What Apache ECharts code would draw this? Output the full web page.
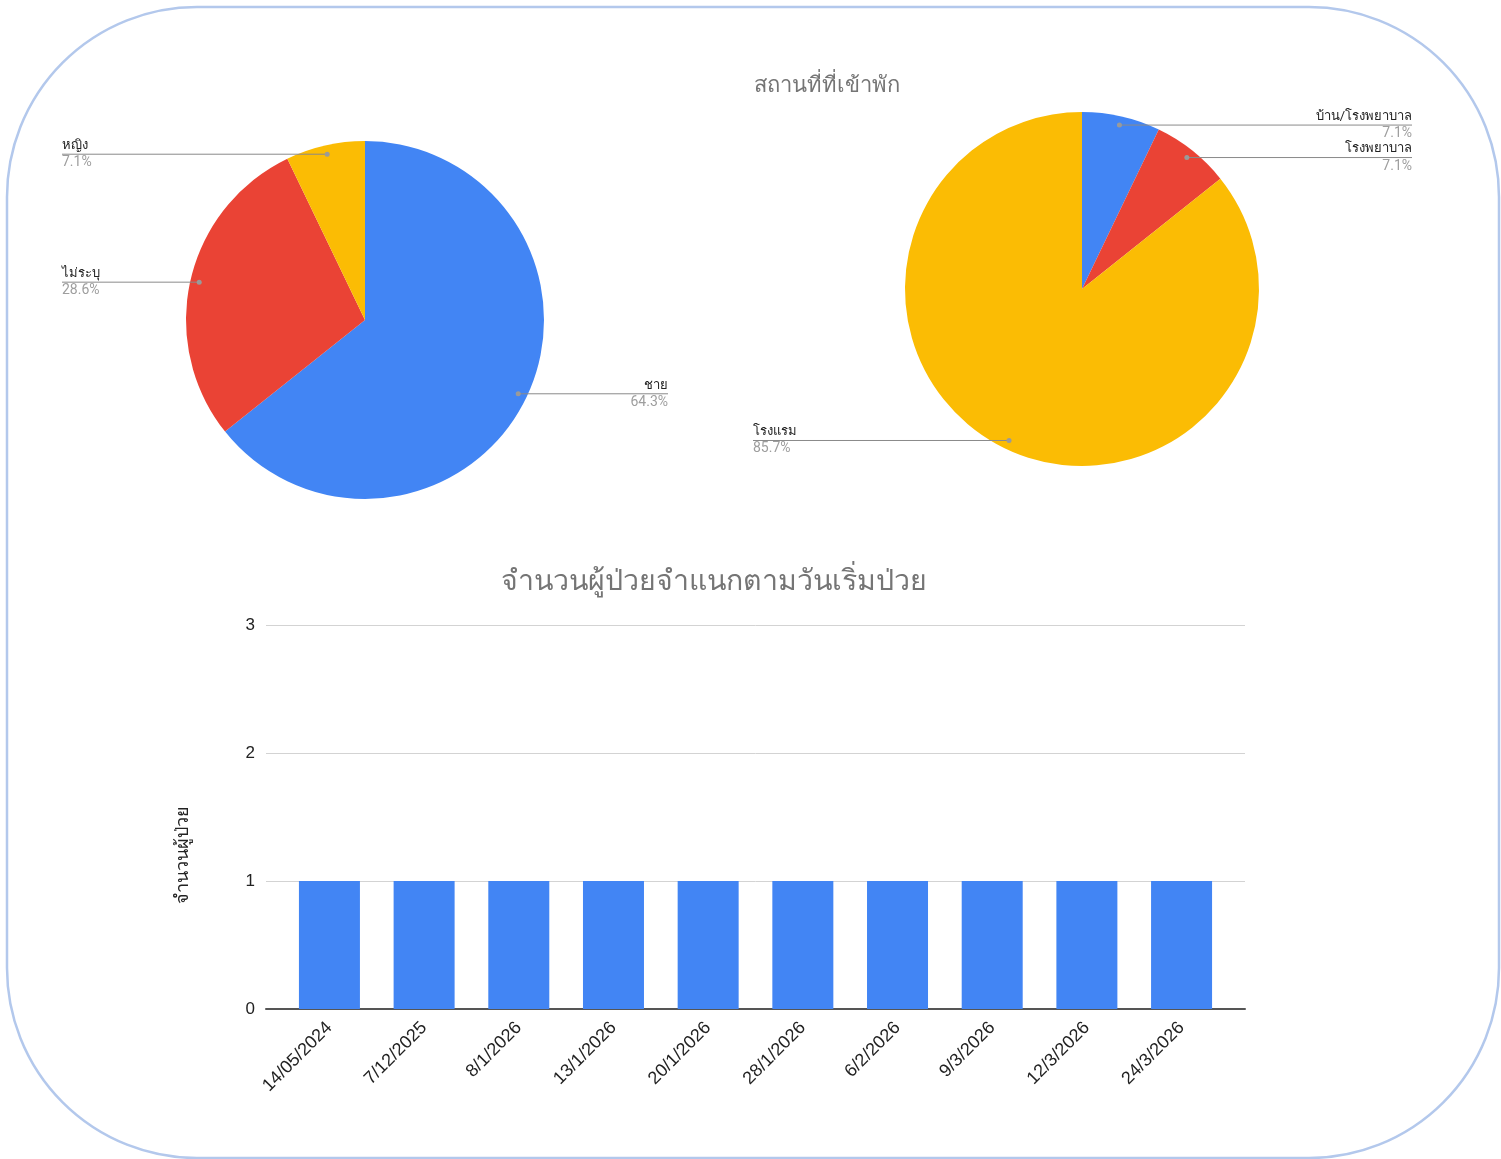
<!DOCTYPE html>
<html>
<head>
<meta charset="utf-8">
<title>chart</title>
<script src="https://cdn.jsdelivr.net/npm/echarts@6/dist/echarts.min.js"></script>
<style>
  html, body { margin: 0; padding: 0; background: #fff; }
  #main { width: 1501px; height: 1159px; }
</style>
</head>
<body>
<div id="main"></div>
<script>
// ข้อมูล
var genderNames = ['ชาย', 'ไม่ระบุ', 'หญิง'];
var genderValues = [9, 4, 1];

var stayNames = ['บ้าน/โรงพยาบาล', 'โรงพยาบาล', 'โรงแรม'];
var stayValues = [1, 1, 12];

var onsetDates = ['14/05/2024', '7/12/2025', '8/1/2026', '13/1/2026', '20/1/2026',
  '28/1/2026', '6/2/2026', '9/3/2026', '12/3/2026', '24/3/2026'];
var onsetCounts = [1, 1, 1, 1, 1, 1, 1, 1, 1, 1];

var colors = ['#4285f4', '#ea4335', '#fbbc04'];
var font = 'Roboto, "Liberation Sans", Arial, sans-serif';
var axisFont = '"Liberation Sans", Arial, sans-serif';

var chart = echarts.init(document.getElementById('main'));

function sum(arr) {
  return arr.reduce(function (a, b) { return a + b; }, 0);
}

// จุดกลางชิ้น (ใช้วางจุดและเส้นนำของป้าย)
function sliceDot(center, r, values, i) {
  var before = 0;
  for (var k = 0; k < i; k++) before += values[k];
  var mid = (before + values[i] / 2) / sum(values) * 2 * Math.PI;
  return {
    x: center[0] + 0.95 * r * Math.sin(mid),
    y: center[1] - 0.95 * r * Math.cos(mid),
    right: Math.sin(mid) > 0
  };
}

// วางป้ายแบบ Google Sheets: เส้นแนวนอนจากจุดไปที่ขอบ
function pieLabels(center, r, values, leftX, rightX) {
  return function (params) {
    var d = sliceDot(center, r, values, params.dataIndex);
    var ex = d.right ? rightX : leftX;
    return {
      x: ex,
      y: d.y,
      align: d.right ? 'right' : 'left',
      verticalAlign: 'middle',
      labelLinePoints: [[d.x, d.y], [d.x, d.y], [ex, d.y]]
    };
  };
}

function pieData(names, values, transparent) {
  return names.map(function (n, i) {
    return { name: n, value: values[i], itemStyle: { color: transparent ? 'rgba(0,0,0,0)' : colors[i] } };
  });
}

function pieSeries(names, values, center, r) {
  return {
    type: 'pie',
    center: center,
    radius: r,
    startAngle: 90,
    animation: false,
    silent: true,
    z: 2,
    itemStyle: { borderWidth: 0 },
    label: { show: false },
    labelLine: { show: false },
    data: pieData(names, values, false)
  };
}

// ชั้นโปร่งใสด้านบน ไว้แสดงป้ายและเส้นให้อยู่เหนือชิ้นพาย
function pieLabelSeries(names, values, center, r, leftX, rightX) {
  var total = sum(values);
  return {
    type: 'pie',
    center: center,
    radius: r,
    startAngle: 90,
    animation: false,
    silent: true,
    z: 3,
    itemStyle: { borderWidth: 0 },
    label: {
      show: true,
      formatter: function (p) {
        return '{n|' + p.name + '}\n{p|' + (p.value / total * 100).toFixed(1) + '%}';
      },
      rich: {
        n: { color: '#222', fontSize: 13, lineHeight: 17, fontFamily: font },
        p: { color: '#9e9e9e', fontSize: 14, lineHeight: 17, fontFamily: font }
      }
    },
    labelLine: { show: true, lineStyle: { color: '#8a8a8a', width: 1 } },
    labelLayout: pieLabels(center, r, values, leftX, rightX),
    data: pieData(names, values, true)
  };
}

function dots(center, r, values) {
  return values.map(function (v, i) {
    var d = sliceDot(center, r, values, i);
    return {
      type: 'circle',
      shape: { cx: d.x, cy: d.y, r: 2.5 },
      style: { fill: '#9a9a9a' },
      z: 100,
      silent: true
    };
  });
}

var leftPie = { center: [365, 320], r: 179 };
var rightPie = { center: [1082, 289], r: 177 };

var option = {
  backgroundColor: '#fff',
  textStyle: { fontFamily: font },
  title: [{
    text: 'สถานที่ที่เข้าพัก',
    left: 822,
    top: 70,
    textAlign: 'center',
    textStyle: { color: '#757575', fontSize: 22, fontWeight: 'normal' }
  }, {
    text: 'จำนวนผู้ป่วยจำแนกตามวันเริ่มป่วย',
    left: 709,
    top: 563,
    textAlign: 'center',
    textStyle: { color: '#757575', fontSize: 28.5, fontWeight: 'normal' }
  }],
  graphic: [{
    type: 'rect',
    shape: { x: 7, y: 7, width: 1492, height: 1151, r: 190 },
    style: { fill: 'none', stroke: '#b3c8ec', lineWidth: 2.5 },
    silent: true
  }, {
    type: 'text',
    x: 183,
    y: 855,
    rotation: Math.PI / 2,
    style: {
      text: 'จำนวนผู้ป่วย',
      fill: '#222',
      fontSize: 18,
      fontFamily: font,
      align: 'center',
      verticalAlign: 'middle'
    },
    silent: true
  }].concat(dots(leftPie.center, leftPie.r, genderValues))
    .concat(dots(rightPie.center, rightPie.r, stayValues)),
  grid: { left: 266, right: 256, top: 625, bottom: 150 },
  xAxis: {
    type: 'value',
    min: -0.67,
    max: 9.67,
    splitLine: { show: false },
    axisLine: { show: true, lineStyle: { color: '#555', width: 2 } },
    axisTick: { show: false },
    axisLabel: {
      customValues: onsetDates.map(function (d, i) { return i; }),
      formatter: function (v) { return onsetDates[Math.round(v)] || ''; },
      rotate: 45,
      color: '#222',
      fontSize: 18,
      fontFamily: axisFont,
      margin: 16
    }
  },
  yAxis: {
    type: 'value',
    min: 0,
    max: 3,
    interval: 1,
    axisLine: { show: false },
    axisTick: { show: false },
    axisLabel: { color: '#222', fontSize: 17, fontFamily: axisFont, margin: 11 },
    splitLine: { lineStyle: { color: '#d3d3d3', width: 1 } }
  },
  series: [
    pieSeries(genderNames, genderValues, leftPie.center, leftPie.r),
    pieSeries(stayNames, stayValues, rightPie.center, rightPie.r),
    pieLabelSeries(genderNames, genderValues, leftPie.center, leftPie.r, 62, 668),
    pieLabelSeries(stayNames, stayValues, rightPie.center, rightPie.r, 753, 1412),
    {
      type: 'bar',
      data: onsetCounts.map(function (c, i) { return [i, c]; }),
      barWidth: 61,
      animation: false,
      silent: true,
      itemStyle: { color: '#4285f4' }
    }
  ]
};

chart.setOption(option);
</script>
</body>
</html>
